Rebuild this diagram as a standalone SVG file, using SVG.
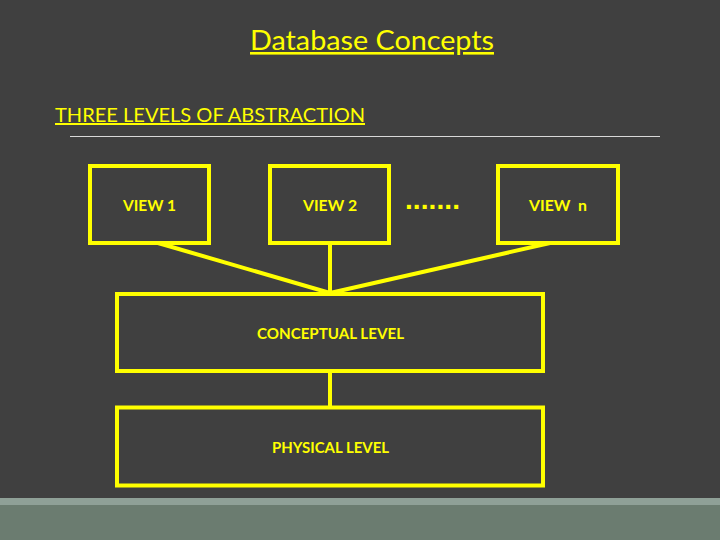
<svg xmlns="http://www.w3.org/2000/svg" width="720" height="540" viewBox="0 0 720 540">
<style>
.box{fill:none;stroke:#ffff00;stroke-width:4}
.conn{stroke:#ffff00;stroke-width:4;fill:none}
.lbl{font-family:Lato,"Liberation Sans",sans-serif;font-weight:bold;font-size:16px;fill:#ffff00;text-anchor:middle}
.ttl{font-family:Lato,"Liberation Sans",sans-serif;fill:#ffff00;text-decoration:underline}
</style>
<rect x="0" y="0" width="720" height="540" fill="#404040"/>
<rect x="0" y="498" width="720" height="42" fill="#6b7c70"/>
<rect x="0" y="498" width="720" height="7" fill="#8fa097"/>
<g id="title">
<text class="ttl" x="250" y="50" font-size="26" textLength="244" lengthAdjust="spacingAndGlyphs">Database Concepts</text>
</g>
<g id="heading">
<text class="ttl" x="55" y="122" font-size="20" textLength="310" lengthAdjust="spacingAndGlyphs">THREE LEVELS OF ABSTRACTION</text>
<line x1="70" y1="136.5" x2="660" y2="136.5" stroke="#d8d8d8" stroke-width="1"/>
</g>
<g id="connectors">
<line class="conn" x1="158" y1="243" x2="330" y2="293"/>
<line class="conn" x1="330" y1="243" x2="330" y2="293"/>
<line class="conn" x1="550" y1="243" x2="330" y2="293"/>
<line class="conn" x1="330" y1="371" x2="330" y2="407"/>
</g>
<g id="view1">
<rect class="box" x="90" y="166" width="119" height="77"/>
<text class="lbl" x="149.5" y="211" textLength="53" lengthAdjust="spacingAndGlyphs">VIEW 1</text>
</g>
<g id="view2">
<rect class="box" x="270" y="166" width="119" height="77"/>
<text class="lbl" x="330" y="211" textLength="54" lengthAdjust="spacingAndGlyphs">VIEW 2</text>
</g>
<g id="dots">
<text x="405" y="209" font-family="'Liberation Sans',sans-serif" font-weight="bold" font-size="28" fill="#ffff00" textLength="55" lengthAdjust="spacing">.......</text>
</g>
<g id="viewn">
<rect class="box" x="498" y="166" width="120" height="77"/>
<text class="lbl" x="558" y="211" textLength="58" lengthAdjust="spacingAndGlyphs" xml:space="preserve">VIEW  n</text>
</g>
<g id="conceptual">
<rect class="box" x="117" y="294" width="426" height="77"/>
<text class="lbl" x="330.5" y="339" textLength="147" lengthAdjust="spacingAndGlyphs">CONCEPTUAL LEVEL</text>
</g>
<g id="physical">
<rect class="box" x="117" y="407.5" width="426" height="78"/>
<text class="lbl" x="330.5" y="453" textLength="117" lengthAdjust="spacingAndGlyphs">PHYSICAL LEVEL</text>
</g>
</svg>
